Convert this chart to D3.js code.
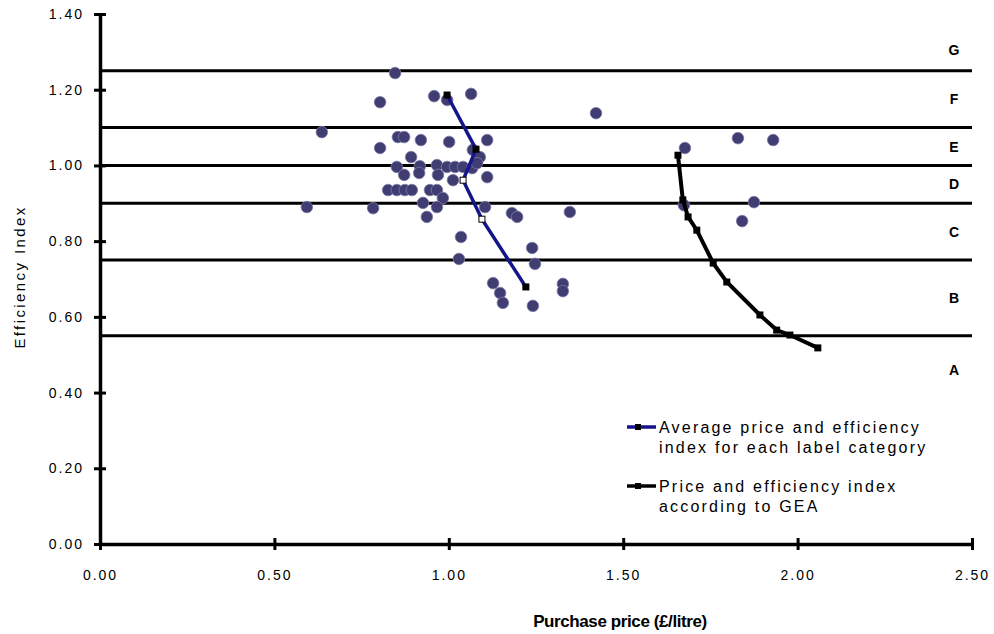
<!DOCTYPE html>
<html>
<head>
<meta charset="utf-8">
<script src="https://cdn.jsdelivr.net/npm/d3@7"></script>
<style>
  body { margin: 0; background: #fff; }
  text { font-family: "Liberation Sans", Arial, sans-serif; }
</style>
</head>
<body>
<svg id="chart" width="994" height="634"></svg>
<script>
// scatter: purchase price vs efficiency index of individual models
var scatterPts = [
  [0.846, 1.244], [0.803, 1.167], [0.958, 1.183], [0.995, 1.173], [1.064, 1.189],
  [0.636, 1.088], [0.854, 1.075], [0.872, 1.075], [0.920, 1.067], [1.001, 1.062],
  [1.110, 1.067], [0.803, 1.046], [0.892, 1.022], [1.069, 1.041], [1.089, 1.022],
  [0.851, 0.996], [0.872, 0.975], [0.917, 0.998], [0.915, 0.980], [0.966, 1.001],
  [0.969, 0.975], [0.995, 0.996], [1.018, 0.996], [1.041, 0.996], [1.012, 0.961],
  [1.067, 0.993], [1.081, 1.006], [1.110, 0.969], [0.826, 0.935], [0.851, 0.935],
  [0.874, 0.935], [0.894, 0.935], [0.946, 0.935], [0.966, 0.935], [0.983, 0.914],
  [0.926, 0.901], [0.966, 0.890], [0.937, 0.864], [0.593, 0.890], [0.783, 0.887],
  [1.104, 0.890], [1.181, 0.874], [1.196, 0.864], [1.035, 0.811], [1.029, 0.753],
  [1.239, 0.782], [1.247, 0.740], [1.127, 0.689], [1.147, 0.663], [1.155, 0.637],
  [1.241, 0.629], [1.327, 0.687], [1.327, 0.668], [1.347, 0.877], [1.422, 1.138],
  [1.829, 1.072], [1.930, 1.067], [1.677, 1.046], [1.674, 0.895], [1.875, 0.903],
  [1.841, 0.853]
];

// average per label category (blue line)
var avgPts = [[0.995, 1.186], [1.078, 1.043], [1.041, 0.961], [1.095, 0.858], [1.221, 0.679]];
var avgOpen = [false, false, true, true, false];

// GEA curve (black line)
var geaPts = [
  [1.657, 1.027], [1.671, 0.909], [1.686, 0.864], [1.711, 0.829], [1.758, 0.742],
  [1.797, 0.692], [1.892, 0.605], [1.940, 0.565], [1.978, 0.552], [2.058, 0.518]
];

// label category boundaries and letters
var bandLines = [1.25, 1.10, 1.00, 0.90, 0.75, 0.55];
var bandLetters = ["G", "F", "E", "D", "C", "B", "A"];
var bandLetterY = [1.305, 1.175, 1.05, 0.95, 0.825, 0.65, 0.46];

var xTicks = [0, 0.5, 1.0, 1.5, 2.0, 2.5];
var yTicks = [0, 0.2, 0.4, 0.6, 0.8, 1.0, 1.2, 1.4];

var svg = d3.select("#chart");
var x = d3.scaleLinear().domain([0, 2.5]).range([100, 972]);
var y = d3.scaleLinear().domain([0, 1.4]).range([544, 14]);

// band lines
svg.append("g").selectAll("line")
  .data(bandLines).enter().append("line")
  .attr("x1", x(0)).attr("x2", x(2.5))
  .attr("y1", function(d) { return y(d); })
  .attr("y2", function(d) { return y(d); })
  .attr("stroke", "#000").attr("stroke-width", 3);

svg.append("g").selectAll("text")
  .data(bandLetters).enter().append("text")
  .attr("x", 954)
  .attr("y", function(d, i) { return y(bandLetterY[i]) + 5; })
  .attr("text-anchor", "middle")
  .attr("font-size", 14).attr("font-weight", "bold")
  .text(function(d) { return d; });

// axes
var yAxis = svg.append("g")
  .attr("transform", "translate(" + x(0) + ",0)")
  .call(d3.axisLeft(y).tickValues(yTicks).tickSize(5).tickPadding(11)
    .tickFormat(d3.format(".2f")).tickSizeOuter(0));
yAxis.select(".domain").style("stroke-width", 3.5);
yAxis.selectAll(".tick line").attr("x1", -6).attr("x2", 6).style("stroke-width", 3);
yAxis.selectAll(".tick text")
  .attr("font-size", 14).attr("letter-spacing", 2)
  .attr("font-family", "Liberation Sans, Arial, sans-serif");

var xAxis = svg.append("g")
  .attr("transform", "translate(0," + y(0) + ")")
  .call(d3.axisBottom(x).tickValues(xTicks).tickSize(5).tickPadding(21)
    .tickFormat(d3.format(".2f")).tickSizeOuter(0));
xAxis.select(".domain").style("stroke-width", 3.5);
xAxis.selectAll(".tick line").attr("y1", -6).attr("y2", 6).style("stroke-width", 3);
xAxis.selectAll(".tick text")
  .attr("font-size", 14).attr("letter-spacing", 2)
  .attr("font-family", "Liberation Sans, Arial, sans-serif");

// axis titles
svg.append("text")
  .attr("transform", "translate(25,277) rotate(-90)")
  .attr("text-anchor", "middle").attr("font-size", 15)
  .attr("letter-spacing", 2.4)
  .text("Efficiency Index");
svg.append("text")
  .attr("x", 620).attr("y", 627)
  .attr("text-anchor", "middle").attr("font-size", 17).attr("font-weight", "bold")
  .attr("letter-spacing", -0.4)
  .text("Purchase price (£/litre)");

// scatter
svg.append("g").selectAll("circle")
  .data(scatterPts).enter().append("circle")
  .attr("cx", function(d) { return x(d[0]); })
  .attr("cy", function(d) { return y(d[1]); })
  .attr("r", 5.8)
  .attr("fill", "#3f3d72")
  .attr("stroke", "#7d7aa6").attr("stroke-width", 0.8);

var line = d3.line().x(function(d) { return x(d[0]); }).y(function(d) { return y(d[1]); });

// average line
svg.append("path").datum(avgPts)
  .attr("d", line).attr("fill", "none")
  .attr("stroke", "#15158a").attr("stroke-width", 3.5);
svg.append("g").selectAll("rect")
  .data(avgPts).enter().append("rect")
  .attr("x", function(d) { return x(d[0]) - 3; })
  .attr("y", function(d) { return y(d[1]) - 3; })
  .attr("width", 6).attr("height", 6)
  .attr("fill", function(d, i) { return avgOpen[i] ? "#fff" : "#000"; })
  .attr("stroke", "#000").attr("stroke-width", 1);

// GEA line
svg.append("path").datum(geaPts)
  .attr("d", line).attr("fill", "none")
  .attr("stroke", "#000").attr("stroke-width", 4);
svg.append("g").selectAll("rect")
  .data(geaPts).enter().append("rect")
  .attr("x", function(d) { return x(d[0]) - 3.5; })
  .attr("y", function(d) { return y(d[1]) - 3.5; })
  .attr("width", 7).attr("height", 7)
  .attr("fill", "#000");

// legend
var legend = svg.append("g");
var legendItems = [
  { color: "#15158a", lines: ["Average price and efficiency", "index for each label category"], y: 427 },
  { color: "#000", lines: ["Price and efficiency index", "according to GEA"], y: 486 }
];
legendItems.forEach(function(it) {
  legend.append("line")
    .attr("x1", 627).attr("x2", 656).attr("y1", it.y).attr("y2", it.y)
    .attr("stroke", it.color).attr("stroke-width", 3.5);
  legend.append("rect")
    .attr("x", 635).attr("y", it.y - 3).attr("width", 6).attr("height", 6)
    .attr("fill", "#000");
  it.lines.forEach(function(t, j) {
    legend.append("text")
      .attr("x", 659).attr("y", it.y + 6 + j * 20)
      .attr("font-size", 16).attr("letter-spacing", 2.2)
      .text(t);
  });
});
</script>
</body>
</html>
